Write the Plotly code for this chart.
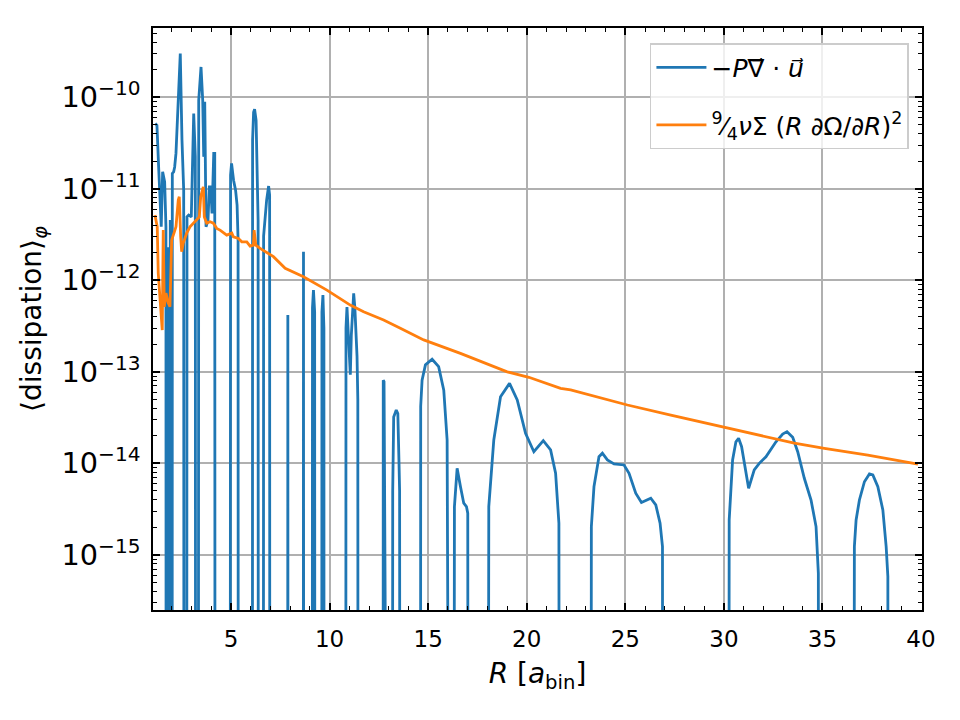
import numpy as np
import plotly.graph_objects as go

# ---- data: -P div(u)  (0 marks non-positive samples, clipped like a log plot) ----
R_pdv = [1.153, 1.240, 1.326, 1.408, 1.458, 1.529, 1.631, 1.697, 1.72, 1.76, 1.78, 1.81, 1.88, 1.916, 1.95,
         1.97, 2.00, 2.02, 2.088, 2.139, 2.205, 2.307, 2.424, 2.510, 2.597, 2.63, 2.73, 2.764, 2.851, 2.983,
         3.105, 3.186, 3.22, 3.32, 3.359, 3.476, 3.562, 3.613, 3.664, 3.730, 3.831, 3.897, 3.968, 4.035,
         4.121, 4.172, 4.21, 4.93, 4.975, 5.025, 5.127, 5.229, 5.305, 5.356, 5.38, 6.07, 6.092, 6.143,
         6.194, 6.27, 6.321, 6.372, 6.40, 6.62, 6.651, 6.804, 6.905, 6.956, 6.98, 7.86, 7.88, 7.90, 8.65,
         8.674, 8.70, 9.10, 9.13, 9.18, 9.24, 9.27, 9.58, 9.61, 9.66, 9.71, 9.73, 10.80, 10.83, 10.88,
         10.95, 11.02, 11.05, 11.10, 11.18, 11.22, 11.28, 11.39, 11.43, 11.46, 12.70, 12.72, 12.76, 12.78,
         13.16, 13.20, 13.25, 13.38, 13.46, 13.52, 13.55, 13.60, 14.59, 14.62, 14.69, 14.86, 15.20, 15.53,
         15.79, 15.96, 16.06, 16.25, 16.331, 16.468, 16.636, 16.804, 16.941, 17.007, 17.06, 17.97, 18.074,
         18.328, 18.669, 19.126, 19.517, 19.939, 20.361, 20.838, 21.209, 21.463, 21.631, 21.70, 23.22,
         23.277, 23.41, 23.664, 23.836, 24.09, 24.426, 24.934, 25.188, 25.528, 25.818, 26.291, 26.545,
         26.763, 26.885, 26.93, 30.20, 30.269, 30.442, 30.61, 30.747, 30.899, 31.255, 31.54, 31.794,
         32.134, 32.642, 32.983, 33.201, 33.491, 33.745, 34.08, 34.421, 34.675, 34.792, 34.83, 36.52,
         36.62, 36.707, 36.875, 37.129, 37.383, 37.556, 37.81, 38.064, 38.232, 38.318, 38.35, 39.9]
pdv = [5.16e-11, 4.94e-11, 1.73e-11, 8.17e-12, 3.84e-12, 1.53e-11, 1.19e-11, 3.84e-12, 0, 0, 2.3e-12, 0, 0,
       4.54e-12, 2e-12, 0, 0, 1.47e-11, 1.53e-11, 1.73e-11, 2.43e-11, 7.83e-11, 3.0e-10, 3.40e-11, 9.66e-12,
       0, 0, 4.93e-12, 5.15e-12, 4.93e-12, 6.64e-11, 2.23e-11, 0, 0, 9.27e-11, 2.14e-10, 9.27e-11, 2.23e-11,
       8.89e-11, 3.84e-12, 4.54e-12, 1.05e-11, 1.05e-11, 5.37e-12, 2.43e-11, 2.43e-11, 0, 0, 1.41e-11,
       1.89e-11, 1.24e-11, 9.66e-12, 6.62e-12, 2.75e-12, 0, 0, 3.4e-11, 6.86e-11, 7.4e-11, 5.6e-11, 2.05e-11,
       4.54e-12, 0, 0, 3.04e-12, 7.51e-12, 1.07e-11, 8.5e-12, 0, 0, 4.17e-13, 0, 0, 2.05e-12, 0, 0, 5.0e-13,
       7.8e-13, 4.5e-13, 0, 0, 4.5e-13, 6.9e-13, 3e-13, 0, 0, 3e-13, 5.1e-13, 2.5e-13, 1.0e-13, 9.3e-14,
       2.5e-13, 6.5e-13, 7.2e-13, 5e-13, 1.48e-13, 5e-14, 0, 0, 8.1e-14, 7.8e-14, 0, 0, 5e-15, 3.2e-14,
       3.83e-14, 3.5e-14, 1e-14, 5e-15, 0, 0, 4.2e-14, 8.1e-14, 1.19e-13, 1.37e-13, 1.14e-13, 6.3e-14,
       1.8e-14, 0, 0, 3.37e-15, 8.83e-15, 5.57e-15, 3.67e-15, 3.37e-15, 2.85e-15, 0, 0, 3.37e-15, 1.80e-14,
       5.35e-14, 7.48e-14, 4.92e-14, 2.13e-14, 1.34e-14, 1.77e-14, 1.40e-14, 7.8e-15, 2.22e-15, 0, 0,
       2.04e-15, 5.57e-15, 1.18e-14, 1.29e-14, 1.09e-14, 9.85e-15, 9.6e-15, 7.8e-15, 4.72e-15, 3.73e-15,
       4.16e-15, 3.52e-15, 2.22e-15, 1.23e-15, 0, 0, 2.41e-15, 1.09e-14, 1.72e-14, 1.88e-14, 1.52e-14,
       5.35e-15, 8.47e-15, 1.0e-14, 1.18e-14, 1.72e-14, 2.09e-14, 2.22e-14, 1.93e-14, 1.34e-14, 6.87e-15,
       3.98e-15, 2.04e-15, 6.3e-16, 0, 0, 1.23e-15, 2.41e-15, 3.98e-15, 6.3e-15, 7.66e-15, 7.46e-15,
       5.57e-15, 3.1e-15, 1.23e-15, 5.8e-16, 0, 0]

# ---- data: 9/4 nu Sigma (R dOmega/dR)^2 ----
R_visc = [1.14, 1.255, 1.306, 1.428, 1.509, 1.560, 1.611, 1.697, 1.814, 1.900, 1.987, 2.104, 2.205, 2.322,
          2.373, 2.444, 2.495, 2.576, 2.749, 2.917, 3.084, 3.257, 3.389, 3.460, 3.511, 3.592, 3.643, 3.765,
          3.933, 4.101, 4.273, 4.441, 4.781, 5.036, 5.117, 5.371, 5.544, 5.798, 5.965, 6.133, 6.169, 6.255,
          6.474, 6.728, 6.982, 7.149, 7.744, 8.674, 9.863, 10.371, 11.047, 11.723, 12.739, 13.588, 14.772,
          16.636, 19.009, 20.107, 21.717, 22.226, 25.107, 27.307, 29.339, 30.188, 32.220, 33.572, 35.097,
          37.302, 39.843]
visc = [5.15e-12, 3.84e-12, 1.20e-12, 5.14e-13, 2.86e-13, 3.53e-12, 5.14e-13, 7.24e-13, 5.64e-13, 5.14e-13,
        2.75e-12, 3.27e-12, 3.84e-12, 7.51e-12, 8.17e-12, 2.99e-12, 2.05e-12, 2.55e-12, 3.27e-12, 3.84e-12,
        4.21e-12, 4.54e-12, 4.93e-12, 8.17e-12, 8.89e-12, 1.05e-11, 4.93e-12, 4.21e-12, 4.35e-12, 4.21e-12,
        3.69e-12, 3.53e-12, 3.11e-12, 3.27e-12, 2.98e-12, 2.86e-12, 2.63e-12, 2.63e-12, 2.36e-12, 2.42e-12,
        3.53e-12, 2.42e-12, 2.23e-12, 2.05e-12, 1.88e-12, 1.81e-12, 1.35e-12, 1.09e-12, 7.81e-13, 6.60e-13,
        5.36e-13, 4.53e-13, 3.68e-13, 2.99e-13, 2.23e-13, 1.59e-13, 1.00e-13, 8.71e-14, 6.60e-14, 6.33e-14,
        4.34e-14, 3.37e-14, 2.69e-14, 2.42e-14, 1.95e-14, 1.66e-14, 1.46e-14, 1.23e-14, 9.78e-15]

x_ticks = [5, 10, 15, 20, 25, 30, 35, 40]

# non-positive values clipped to a tiny value (as a log plot does)
pdv_plot = np.where(np.array(pdv) > 0, np.array(pdv), 1e-30)

FONT = "DejaVu Sans"
fig = go.Figure()
fig.add_trace(go.Scatter(x=R_pdv, y=pdv_plot, mode="lines", line=dict(color="#1f77b4", width=2.8),
                         name="\u2212<i>P</i>\u2207\u20d7 \u00b7 <i>u\u20d7</i>", legendgroup="a"))
fig.add_trace(go.Scatter(x=R_visc, y=visc, mode="lines", line=dict(color="#ff7f0e", width=2.8),
                         name="<sup>9</sup>\u2044<sub>4</sub><i>\u03bd</i>\u03a3 (<i>R</i> \u2202\u03a9/\u2202<i>R</i>)<sup>2</sup>",
                         legendgroup="b"))

axis_common = dict(showline=True, linecolor="black", linewidth=1.7, mirror="allticks",
                   ticks="inside", ticklen=7, tickwidth=1.7, tickcolor="black",
                   showgrid=True, gridcolor="#b0b0b0", gridwidth=1.7, zeroline=False,
                   tickfont=dict(family=FONT, size=23, color="black"))

fig.update_layout(
    width=960, height=720,
    margin=dict(l=153, r=38, t=28, b=110),
    paper_bgcolor="white", plot_bgcolor="white",
    font=dict(family=FONT, color="black"),
    xaxis=dict(range=[1.04, 40.05], tickvals=x_ticks, ticklabelstandoff=8,
               minor=dict(dtick=1, tick0=0, ticks="inside", ticklen=4, tickwidth=1.2, tickcolor="black", showgrid=False),
               title=dict(text="<i>R</i> [<i>a</i><sub>bin</sub>]", font=dict(family=FONT, size=28), standoff=12),
               **axis_common),
    yaxis=dict(type="log", range=[np.log10(2.5e-16), np.log10(5.7e-10)], dtick=1, exponentformat="power",
               ticklabelstandoff=6,
               minor=dict(dtick="D1", ticks="inside", ticklen=4, tickwidth=1.2, tickcolor="black", showgrid=False),
               title=dict(text="\u27e8dissipation\u27e9<sub><i>\u03c6</i></sub>", font=dict(family=FONT, size=28), standoff=12),
               **axis_common),
    legend=dict(x=0.983, y=0.974, xanchor="right", yanchor="top", bgcolor="rgba(255,255,255,0.8)",
                bordercolor="#cccccc", borderwidth=1.5, font=dict(family=FONT, size=25),
                traceorder="grouped", tracegroupgap=22, itemwidth=50),
    showlegend=True,
)

fig.write_html("out.html")
